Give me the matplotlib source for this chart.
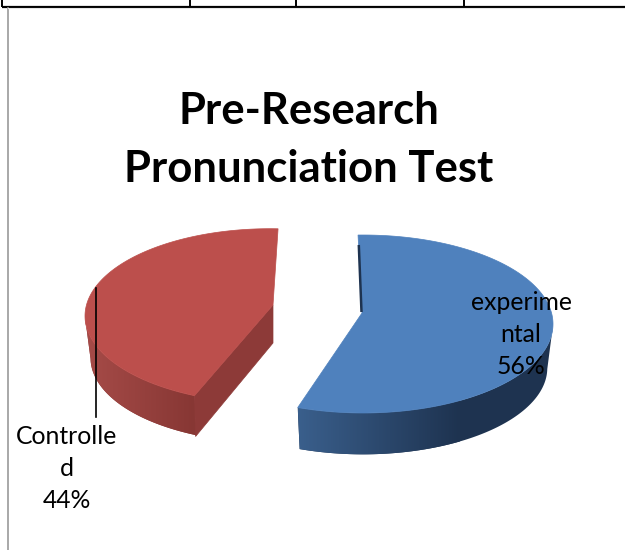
import numpy as np
import matplotlib
matplotlib.use("Agg")
import matplotlib.pyplot as plt
from matplotlib.colors import to_rgb, LinearSegmentedColormap
from matplotlib.patches import Polygon

title_lines = ["Pre-Research", "Pronunciation Test"]
categories = ["experimental", "Controlled"]
percent_values = [56, 44]
label_lines = [["experime", "ntal", "56%"], ["Controlle", "d", "44%"]]
top_colors = ["#4F81BD", "#BC4F4C"]
wall_left = ["#3A5F8C", "#A64B48"]
wall_right = ["#1E3350", "#873734"]

fig = plt.figure(figsize=(6.25, 5.5), dpi=100, facecolor="white")
ax = fig.add_axes([0, 0, 1, 1])

# page furniture: table rule above the chart and chart frame
ax.plot([2, 625], [6.5, 6.5], color="black", lw=1.6, solid_capstyle="butt")
for x in [2, 190, 296, 464]:
    ax.plot([x, x], [0, 6.5], color="black", lw=1.4, solid_capstyle="butt")
ax.plot([7.5, 7.5], [8, 550], color="#9a9a9a", lw=1.2)
ax.plot([7.5, 625], [8, 8], color="#e6e6e6", lw=0.8)


def rim(t_deg, g, scale=1.0, dy=0.0):
    t = np.radians(t_deg)
    return np.column_stack([g["cx"] + scale * g["rx"] * np.sin(t),
                            g["cy"] + dy + scale * g["ry"] * -np.cos(t)])


sweeps = [v / sum(percent_values) * 360 for v in percent_values]
geo_blue = dict(cx=363, cy=324, rx=190, ry=89, apex=(362, 313), depth=44)
geo_red = dict(cx=270, cy=316, rx=185, ry=87.3, apex=(273, 305), depth=42)

# blue slice runs clockwise from the top
b_t = np.linspace(-1.5, -1.5 + sweeps[0], 200)
# red slice runs anticlockwise from the top
r_t = np.linspace(2.5 - sweeps[1], 2.5, 200)


def draw_wall(ts, g, c_left, c_right, x_start, x_end):
    outline = np.vstack([rim(ts, g), rim(ts[::-1], g, 0.97, g["depth"])])
    # beyond the gradient's end the wall keeps its darkest colour
    ax.add_patch(Polygon(outline, closed=True, fc=c_right, ec="none", zorder=0.9))
    patch = Polygon(outline, closed=True, fc="none", ec="none", transform=ax.transData)
    ax.add_patch(patch)
    cmap = LinearSegmentedColormap.from_list("wall", [to_rgb(c_left), to_rgb(c_right)])
    grad = np.linspace(0, 1, 256).reshape(1, -1)
    im = ax.imshow(grad, cmap=cmap, extent=(x_start, x_end, 480, 230), aspect="auto",
                   interpolation="bilinear", zorder=1)
    im.set_clip_path(patch)


# blue
vis = b_t[b_t >= 90]
draw_wall(vis, geo_blue, wall_left[0], wall_right[0], 298, 460)
ax.add_patch(Polygon(np.vstack([[geo_blue["apex"]], rim(b_t, geo_blue)]), closed=True,
                     fc=top_colors[0], ec=top_colors[0], lw=0.5, zorder=2))
ax.plot([358.8, 361.5], [245, 312], color=wall_right[0], lw=1.8, solid_capstyle="butt", zorder=3)

# red
vis = r_t[r_t <= -90]
draw_wall(vis, geo_red, wall_left[1], wall_right[1], 85, 195)
corner = rim(r_t[:1], geo_red)[0]
corner_low = rim(r_t[:1], geo_red, 0.985, geo_red["depth"])[0]
ax_apex = np.array(geo_red["apex"], float)
ax.add_patch(Polygon([ax_apex, corner, corner_low, ax_apex + [0, 38]], closed=True,
                     fc="#8D3A38", ec="#8D3A38", lw=0.5, zorder=2))
ax.add_patch(Polygon(np.vstack([[geo_red["apex"]], rim(r_t, geo_red)]), closed=True,
                     fc=top_colors[1], ec=top_colors[1], lw=0.5, zorder=2))

# leader line
ax.plot([96, 96], [288, 417], color="black", lw=1.2, zorder=3)

# text
for line, y in zip(title_lines, [111, 169]):
    ax.text(309, y, line, ha="center", va="center", family="Lato", weight="bold",
            fontsize=31.4, color="black", zorder=4)
for line, y in zip(label_lines[0], [303, 334, 367]):
    ax.text(521, y, line, ha="center", va="center", family="Lato", fontsize=17.8, color="black", zorder=4)
for line, y in zip(label_lines[1], [436, 468, 501]):
    ax.text(67, y, line, ha="center", va="center", family="Lato", fontsize=17.8, color="black", zorder=4)

ax.set_xlim(0, 625)
ax.set_ylim(550, 0)
ax.axis("off")

fig.savefig("out.png", dpi=100, facecolor="white")
